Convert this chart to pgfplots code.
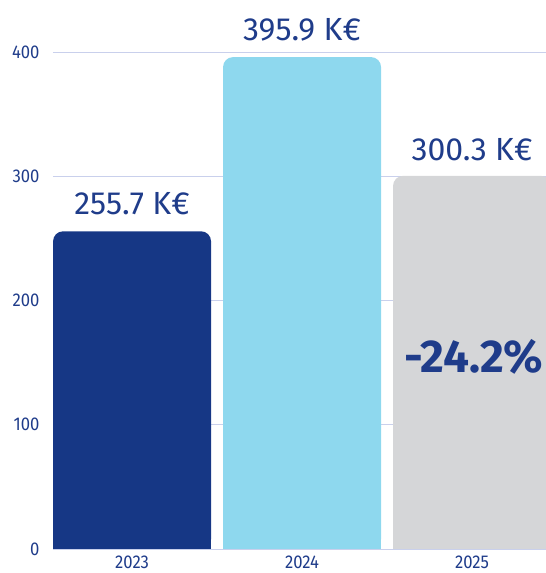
\documentclass[border=0pt]{standalone}
\usepackage{pgfplots}
\pgfplotsset{compat=1.18}
\usepackage{fontspec}
\setmainfont{Fira Sans}
\definecolor{darkb}{HTML}{163785}
\definecolor{lightb}{HTML}{8ED8EE}
\definecolor{greyb}{HTML}{D5D6D8}
\definecolor{txt}{HTML}{1F3C8A}
\definecolor{gridc}{HTML}{C9D0EC}
\begin{document}
\begin{tikzpicture}
\path[use as bounding box] (-53pt,-24pt) rectangle (493pt,549pt);
\begin{axis}[
  scale only axis, width=493pt, height=497pt,
  xmin=-0.465, xmax=2.435, ymin=0, ymax=400,
  axis x line=bottom, axis y line=left,
  axis line style={draw=none},
  ymajorgrids, grid style={gridc, line width=0.8pt},
  ytick={0,100,200,300,400},
  xtick={0,1,2}, xticklabels={2023,2024,2025},
  major tick length=0pt,
  /pgf/number format/assume math mode=true,
  yticklabel style={font=\fontsize{18.5}{20}\selectfont\addfontfeature{FakeStretch=0.9}, text=txt, xshift=-10pt},
  xticklabel style={font=\fontsize{18.5}{20}\selectfont\addfontfeature{FakeStretch=0.9}, text=txt, yshift=-3.5pt},
  clip mode=individual,
  ybar, bar width=158pt, bar shift=0pt,
]
\addplot[draw=none, fill=darkb, rounded corners=10pt] coordinates {(0,255.7)};
\addplot[draw=none, fill=darkb] coordinates {(0,150)};
\addplot[draw=none, fill=lightb, rounded corners=10pt] coordinates {(1,395.9)};
\addplot[draw=none, fill=lightb] coordinates {(1,150)};
\addplot[draw=none, fill=greyb, rounded corners=10pt] coordinates {(2,300.3)};
\addplot[draw=none, fill=greyb] coordinates {(2,150)};
\draw[gridc, line width=0.8pt] (axis cs:-0.465,0) -- (axis cs:2.435,0);
\node[font=\fontsize{32}{34}\selectfont, text=txt, anchor=base] at (axis cs:0,269) {255.7 K€};
\node[font=\fontsize{32}{34}\selectfont, text=txt, anchor=base] at (axis cs:1,409) {395.9 K€};
\node[font=\fontsize{32}{34}\selectfont, text=txt, anchor=base] at (axis cs:2,313) {300.3 K€};
\node[font=\bfseries\fontsize{46}{48}\selectfont, text=txt] at (axis cs:2.01,155) {-24.2\%};
\end{axis}
\end{tikzpicture}
\end{document}
